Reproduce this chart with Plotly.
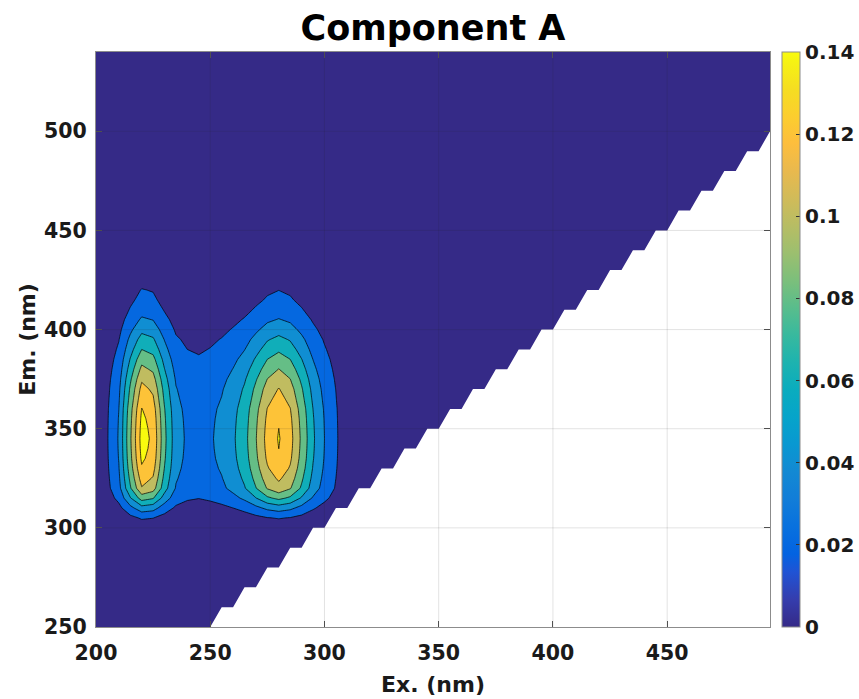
import numpy as np
import plotly.graph_objects as go

# ---------------- data ----------------
# Excitation loading of component A (absolute intensity scale)
ex_nm = [200, 205, 210, 215, 220, 225, 230, 235, 240, 245, 250, 255, 260,
         265, 270, 275, 280, 285, 290, 295, 300, 305, 310, 315, 320]
ex_loading = [0.000, 0.019, 0.042, 0.097, 0.148, 0.136, 0.085, 0.048, 0.037,
              0.034, 0.038, 0.045, 0.057, 0.073, 0.099, 0.127, 0.1415, 0.127,
              0.096, 0.063, 0.040, 0.023, 0.005, 0.000, 0.000]

# Emission loading of component A (normalised to 1)
em_nm = [285, 290, 295, 300, 305, 310, 315, 320, 325, 330, 335, 340, 345, 350,
         355, 360, 365, 370, 375, 380, 385, 390, 395, 400, 405, 410, 415, 420,
         425, 430, 435, 440, 445, 450, 455, 460]
em_loading = [0.00, 0.00, 0.01, 0.05, 0.15, 0.35, 0.60, 0.80, 0.87, 0.93, 0.97,
              0.99, 1.00, 0.99, 0.975, 0.95, 0.90, 0.855, 0.79, 0.71, 0.63,
              0.54, 0.46, 0.37, 0.29, 0.22, 0.17, 0.14, 0.10, 0.06, 0.04, 0.03,
              0.02, 0.01, 0.00, 0.00]

ex_range = [200, 495]
em_range = [250, 540]
em_steps = list(range(250, 510, 10))     # emission rows of the measured grid
x_ticks = [200, 250, 300, 350, 400, 450]
y_ticks = [250, 300, 350, 400, 450, 500]
cb_ticks = [0, 0.02, 0.04, 0.06, 0.08, 0.1, 0.12, 0.14]
cb_text = ["0", "0.02", "0.04", "0.06", "0.08", "0.1", "0.12", "0.14"]
levels = dict(start=0.02, end=0.141, size=0.02)

# ---------------- build the EEM (PARAFAC component = outer product) ----------------
ex_grid = ex_nm + [ex_range[1]]
ex_load = ex_loading + [0.0]
em_grid = [em_range[0]] + em_nm + [em_range[1]]
em_load = [0.0] + em_loading + [0.0]
Z = np.outer(np.array(em_load), np.array(ex_load))

# MATLAB parula colormap
parula_rgb = [
    (0.2081, 0.1663, 0.5292), (0.2081, 0.2386, 0.6771), (0.1253, 0.3242, 0.8303),
    (0.0117, 0.3875, 0.8820), (0.0329, 0.4430, 0.8720), (0.0723, 0.4887, 0.8467),
    (0.0749, 0.5375, 0.8263), (0.0343, 0.5966, 0.8199), (0.0231, 0.6418, 0.7913),
    (0.0384, 0.6743, 0.7436), (0.1133, 0.7015, 0.6859), (0.2178, 0.7250, 0.6193),
    (0.3482, 0.7424, 0.5473), (0.4871, 0.7491, 0.4840), (0.6099, 0.7473, 0.4337),
    (0.7184, 0.7411, 0.3905), (0.8185, 0.7327, 0.3498), (0.9139, 0.7258, 0.3063),
    (0.9938, 0.7455, 0.2403), (0.9880, 0.8066, 0.1794), (0.9626, 0.8705, 0.1309),
    (0.9661, 0.9514, 0.0755), (0.9763, 0.9831, 0.0538)]
parula_idx = [1, 4, 7, 9, 12, 15, 18, 21, 24, 27, 30, 33, 36, 39, 42, 45, 48, 51,
              54, 57, 60, 63, 64]
parula = [[(i - 1) / 63, "rgb(%d,%d,%d)" % tuple(round(v * 255) for v in c)]
          for i, c in zip(parula_idx, parula_rgb)]

BOLD = "DejaVu Sans"
TXT = "#1a1a1a"

fig = go.Figure()

fig.add_trace(go.Contour(
    x=ex_grid, y=em_grid, z=Z,
    colorscale=parula, showscale=False,
    contours=dict(start=levels["start"], end=levels["end"], size=levels["size"],
                  coloring="fill", showlines=True),
    line=dict(color="rgba(0,0,0,0.8)", width=0.9, smoothing=0),
    hoverinfo="skip",
))

# region where Em < Ex (not measured) -> white staircase mask
mx, my = [], []
for e in em_steps:
    mx += [e - 5, e]
    my += [e, e]
mx += [560, 560, em_steps[0] - 10]
my += [em_steps[-1], em_steps[0] - 20, em_steps[0] - 20]
fig.add_trace(go.Scatter(x=mx, y=my, fill="toself", fillcolor="white",
                         mode="lines", line=dict(width=0, color="white"),
                         hoverinfo="skip", showlegend=False))

# dummy trace carrying the continuous colorbar
fig.add_trace(go.Scatter(
    x=[300], y=[260], mode="markers", hoverinfo="skip", showlegend=False,
    marker=dict(size=1, opacity=0, color=[0], colorscale=parula, cmin=0, cmax=0.14,
                showscale=True,
                colorbar=dict(x=1.018, xanchor="left", xpad=0, y=0.5, yanchor="middle",
                              ypad=0, len=1, lenmode="fraction", thickness=18,
                              outlinecolor="#8c8c8c", outlinewidth=1,
                              ticks="inside", ticklen=4, tickcolor="#333",
                              tickvals=cb_ticks, ticktext=cb_text,
                              tickfont=dict(family=BOLD, size=20, color=TXT, weight="bold")))))

# grid lines drawn over the filled contours (MATLAB style)
shapes = []
for v in x_ticks[1:]:
    shapes.append(dict(type="line", xref="x", yref="paper", x0=v, x1=v, y0=0, y1=1,
                       line=dict(color="rgba(40,40,40,0.13)", width=1), layer="above"))
for v in y_ticks[1:]:
    shapes.append(dict(type="line", xref="paper", yref="y", x0=0, x1=1, y0=v, y1=v,
                       line=dict(color="rgba(40,40,40,0.13)", width=1), layer="above"))

axis_common = dict(showgrid=False, zeroline=False, showline=True, linecolor="#8c8c8c",
                   linewidth=1, mirror="allticks", ticks="inside", ticklen=6,
                   tickcolor="#555",
                   tickfont=dict(family=BOLD, size=20.5, color=TXT, weight="bold"))

fig.update_layout(
    width=859, height=699,
    margin=dict(l=96, r=89, t=52, b=72, autoexpand=False),
    paper_bgcolor="white", plot_bgcolor="white",
    title=dict(text="Component A", x=0.5, xref="paper", xanchor="center",
               y=1 - 28 / 699, yref="container", yanchor="middle",
               font=dict(family=BOLD, size=35, color="black", weight="bold")),
    xaxis=dict(range=ex_range, tickvals=x_ticks, ticklabelstandoff=7, **axis_common,
               title=dict(text="Ex. (nm)", standoff=13,
                          font=dict(family=BOLD, size=22, color=TXT, weight="bold"))),
    yaxis=dict(range=em_range, tickvals=y_ticks, ticklabelstandoff=4, **axis_common,
               title=dict(text="Em. (nm)", standoff=2,
                          font=dict(family=BOLD, size=22, color=TXT, weight="bold"))),
    shapes=shapes,
    showlegend=False,
)

fig.write_html("out.html")
